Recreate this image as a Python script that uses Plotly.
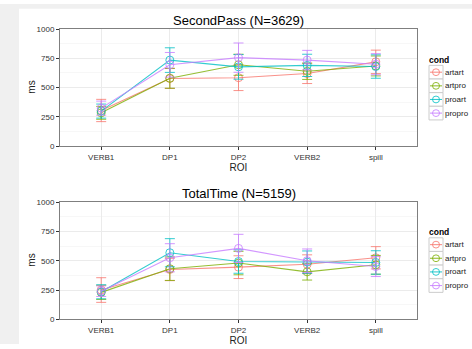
import plotly.graph_objects as go

# ---------------- data ----------------
rois = ["VERB1", "DP1", "DP2", "VERB2", "spill"]
conds = ["artart", "artpro", "proart", "propro"]
colors = ["#F8766D", "#7CAE00", "#00BFC4", "#C77CFF"]

sp_title = "SecondPass (N=3629)"
sp_artart = [305, 578, 585, 620, 720]
sp_artpro = [285, 580, 695, 640, 685]
sp_proart = [300, 735, 677, 690, 680]
sp_propro = [325, 695, 756, 735, 700]
sp_ci_artart = [95, 85, 110, 85, 100]
sp_ci_artpro = [55, 85, 90, 70, 85]
sp_ci_proart = [60, 105, 105, 95, 100]
sp_ci_propro = [60, 105, 125, 83, 90]

tt_title = "TotalTime (N=5159)"
tt_artart = [250, 425, 445, 470, 525]
tt_artpro = [230, 432, 480, 405, 465]
tt_proart = [235, 568, 493, 488, 485]
tt_propro = [240, 525, 605, 500, 450]
tt_ci_artart = [105, 95, 97, 80, 95]
tt_ci_artpro = [60, 100, 100, 70, 80]
tt_ci_proart = [60, 120, 100, 95, 100]
tt_ci_propro = [45, 120, 120, 100, 85]

y_ticks = [0, 250, 500, 750, 1000]

panels = [
    (sp_title, [sp_artart, sp_artpro, sp_proart, sp_propro],
     [sp_ci_artart, sp_ci_artpro, sp_ci_proart, sp_ci_propro]),
    (tt_title, [tt_artart, tt_artpro, tt_proart, tt_propro],
     [tt_ci_artart, tt_ci_artpro, tt_ci_proart, tt_ci_propro]),
]

# ---------------- layout geometry ----------------
W, H = 472, 349
FONT = "Liberation Sans, Arial, Helvetica, sans-serif"


def px_x(x):
    return x / W


def px_y(y):
    return 1 - y / H


x_dom = [px_x(60), px_x(417)]
y_doms = [[px_y(146), px_y(25.7)], [px_y(323.7), px_y(203.3)]]
title_y = [17, 194.5]
legend_top = [57, 234]


def rgba(hex_col, a):
    h = hex_col.lstrip("#")
    r, g, b = int(h[0:2], 16), int(h[2:4], 16), int(h[4:6], 16)
    return f"rgba({r},{g},{b},{a})"


fig = go.Figure()
shapes = []
annotations = []

# grey page margin strips (left and top)
GREY = "#f0f0f0"
shapes.append(dict(type="rect", xref="paper", yref="paper",
                   x0=0, x1=px_x(19), y0=0, y1=1,
                   fillcolor=GREY, line=dict(width=0), layer="above"))
shapes.append(dict(type="rect", xref="paper", yref="paper",
                   x0=0, x1=1, y0=px_y(5), y1=1,
                   fillcolor=GREY, line=dict(width=0), layer="above"))

for p, (title, means, cis) in enumerate(panels):
    xa = "x" if p == 0 else "x2"
    ya = "y" if p == 0 else "y2"
    for c, name in enumerate(conds):
        col = colors[c]
        fig.add_trace(go.Scatter(
            x=rois, y=means[c], name=name, mode="lines+markers",
            xaxis=xa, yaxis=ya, showlegend=False,
            line=dict(color=rgba(col, 0.8), width=1.1),
            marker=dict(symbol="circle-open", size=8,
                        color=rgba(col, 0.8), line=dict(width=1)),
            error_y=dict(type="data", array=cis[c], symmetric=True,
                         color=rgba(col, 0.8), thickness=1, width=5),
        ))

    axkey = "" if p == 0 else "2"
    fig.update_layout(**{
        f"xaxis{axkey}": dict(
            domain=x_dom, anchor=ya, type="category",
            categoryorder="array", categoryarray=rois,
            range=[-0.6, 4.6],
            showline=True, mirror=True, linecolor="#7f7f7f", linewidth=1,
            showgrid=True, gridcolor="#ebebeb", gridwidth=1,
            ticks="outside", ticklen=3, tickcolor="#333333",
            tickfont=dict(family=FONT, size=8, color="#333333"),
            title=dict(text="ROI", standoff=0,
                       font=dict(family=FONT, size=10, color="#222222")),
            zeroline=False, fixedrange=True,
        ),
        f"yaxis{axkey}": dict(
            domain=y_doms[p], anchor=xa, range=[0, 1000],
            tickvals=y_ticks, ticktext=[str(v) for v in y_ticks],
            showline=True, mirror=True, linecolor="#7f7f7f", linewidth=1,
            showgrid=True, gridcolor="#ebebeb", gridwidth=1,
            minor=dict(showgrid=True, dtick=125, tick0=125,
                       gridcolor="#f7f7f7", gridwidth=1),
            ticks="outside", ticklen=3, tickcolor="#333333",
            tickfont=dict(family=FONT, size=8, color="#333333"),
            zeroline=False, fixedrange=True,
        ),
    })

    # y axis title
    annotations.append(dict(text="ms", xref="paper", yref="paper",
                            x=px_x(32), y=(y_doms[p][0] + y_doms[p][1]) / 2,
                            xanchor="center", yanchor="middle", textangle=-90,
                            showarrow=False,
                            font=dict(family=FONT, size=10, color="#222222")))

    # panel title
    annotations.append(dict(text=title, xref="paper", yref="paper",
                            x=(x_dom[0] + x_dom[1]) / 2, y=px_y(title_y[p]),
                            xanchor="center", yanchor="middle", showarrow=False,
                            font=dict(family=FONT, size=13, color="black")))

    # legend (ggplot-style keys)
    top = legend_top[p]
    annotations.append(dict(text="<b>cond</b>", xref="paper", yref="paper",
                            x=px_x(427), y=px_y(top), xanchor="left",
                            yanchor="middle", showarrow=False,
                            font=dict(family=FONT, size=8.5, color="black")))
    for c, name in enumerate(conds):
        cy = top + 13 + 14 * c
        kx0, kx1 = 429, 443
        shapes.append(dict(type="rect", xref="paper", yref="paper",
                           x0=px_x(kx0), x1=px_x(kx1),
                           y0=px_y(cy + 7), y1=px_y(cy - 7),
                           fillcolor="white", line=dict(color="#cccccc", width=1)))
        shapes.append(dict(type="line", xref="paper", yref="paper",
                           x0=px_x(kx0 + 1), x1=px_x(kx1 - 1),
                           y0=px_y(cy), y1=px_y(cy),
                           line=dict(color=rgba(colors[c], 0.8), width=1.1)))
        shapes.append(dict(type="circle", xref="paper", yref="paper",
                           x0=px_x(436 - 3.5), x1=px_x(436 + 3.5),
                           y0=px_y(cy + 3.5), y1=px_y(cy - 3.5),
                           line=dict(color=rgba(colors[c], 0.8), width=1)))
        annotations.append(dict(text=name, xref="paper", yref="paper",
                                x=px_x(443), y=px_y(cy), xanchor="left",
                                yanchor="middle", showarrow=False,
                                font=dict(family=FONT, size=8, color="#222222")))

fig.update_layout(
    width=W, height=H, margin=dict(l=0, r=0, t=0, b=0),
    paper_bgcolor="white", plot_bgcolor="white",
    showlegend=False, shapes=shapes, annotations=annotations,
    font=dict(family=FONT),
)

fig.write_html(
    "out.html", include_plotlyjs=True,
    config={"displayModeBar": False, "responsive": False},
    post_script=(
        "document.documentElement.style.margin='0';"
        "document.documentElement.style.overflow='hidden';"
        "document.body.style.margin='0';"
        "document.body.style.overflow='hidden';"
    ),
)
